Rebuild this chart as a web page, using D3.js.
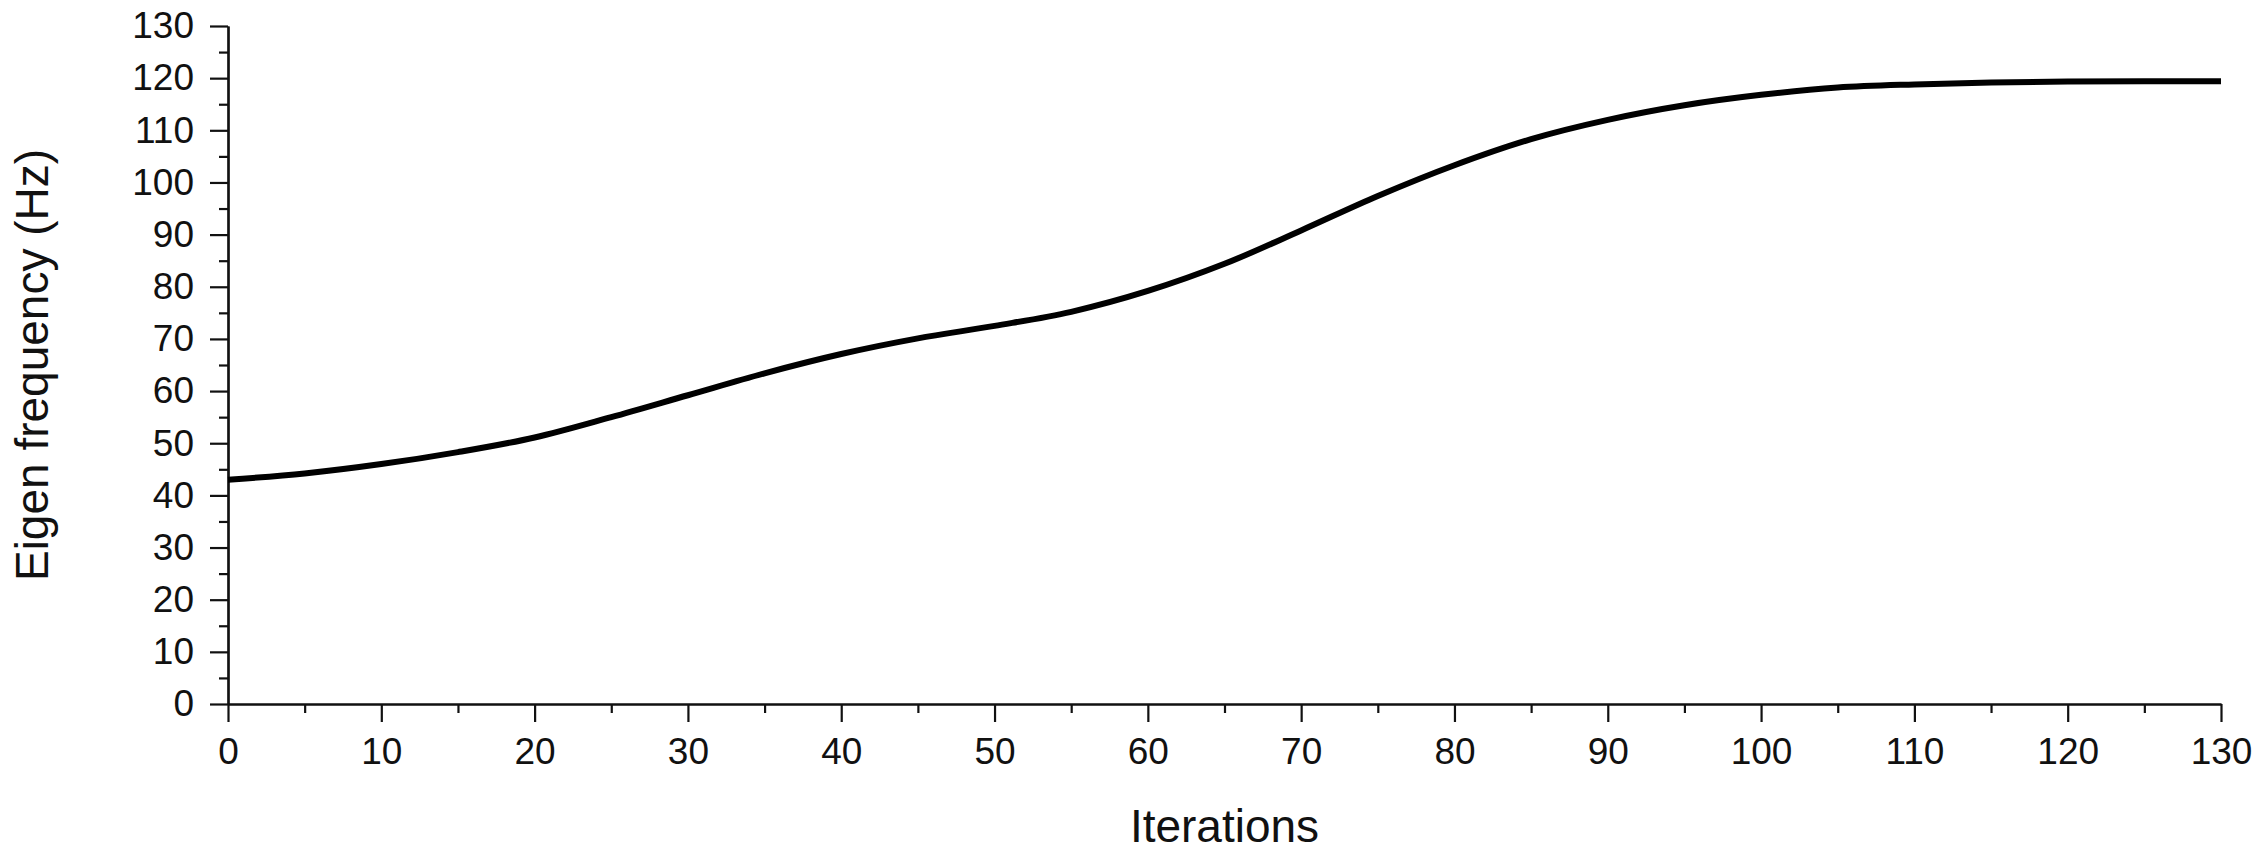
<!DOCTYPE html>
<html>
<head>
<meta charset="utf-8">
<script src="https://cdn.jsdelivr.net/npm/d3@7"></script>
<style>
  html, body { margin: 0; padding: 0; background: #fff; }
  svg { display: block; }
</style>
</head>
<body>
<div id="chart"></div>
<script>
// Eigen frequency vs optimisation iteration
const iterations = [0, 5, 10, 15, 20, 25, 30, 35, 40, 45, 50, 55, 60, 65,
  70, 75, 80, 85, 90, 95, 100, 105, 110, 115, 120, 125, 130];
const frequency = [43.0, 44.2, 46.0, 48.3, 51.1, 55.0, 59.2, 63.4, 67.1, 70.1, 72.5, 75.2, 79.2, 84.4,
  90.8, 97.4, 103.3, 108.3, 112.0, 114.8, 116.8, 118.2, 118.8, 119.15, 119.35, 119.4, 119.4];

const xMajorTicks = d3.range(0, 131, 10);
const xMinorTicks = d3.range(5, 130, 10);
const yMajorTicks = d3.range(0, 131, 10);
const yMinorTicks = d3.range(5, 130, 10);

const xTitle = 'Iterations';
const yTitle = 'Eigen frequency (Hz)';

const W = 2265, H = 858;
const margin = { top: 26, right: 44, bottom: 154, left: 228 };
const innerW = W - margin.left - margin.right;
const innerH = H - margin.top - margin.bottom;
const font = '"Liberation Sans", Arial, sans-serif';

const x = d3.scaleLinear().domain([0, 130]).range([0, innerW]);
const y = d3.scaleLinear().domain([0, 130]).range([innerH, 0]);

const svg = d3.select('#chart').append('svg').attr('width', W).attr('height', H);
const g = svg.append('g').attr('transform', `translate(${margin.left},${margin.top})`);

function styleAxis(axis) {
  axis.select('.domain').attr('stroke', '#111').attr('stroke-width', 2.2);
  axis.selectAll('line').attr('stroke', '#111').attr('stroke-width', 2.2);
  axis.selectAll('text').attr('fill', '#111').style('font-family', font).style('font-size', '37px');
}

// minor ticks first, majors on top
g.append('g')
  .attr('transform', `translate(0,${innerH})`)
  .call(d3.axisBottom(x).tickValues(xMinorTicks).tickSize(9).tickFormat('').tickSizeOuter(0))
  .call(styleAxis);
g.append('g')
  .attr('transform', `translate(0,${innerH})`)
  .call(d3.axisBottom(x).tickValues(xMajorTicks).tickSize(18).tickPadding(16).tickSizeOuter(0))
  .call(styleAxis);

g.append('g')
  .call(d3.axisLeft(y).tickValues(yMinorTicks).tickSize(9).tickFormat('').tickSizeOuter(0))
  .call(styleAxis);
g.append('g')
  .call(d3.axisLeft(y).tickValues(yMajorTicks).tickSize(18).tickPadding(16).tickSizeOuter(0))
  .call(styleAxis);

const pts = iterations.map((it, i) => ({ it, f: frequency[i] }));
const line = d3.line()
  .x((d) => x(d.it))
  .y((d) => y(d.f))
  .curve(d3.curveCatmullRom.alpha(0.5));

g.append('path')
  .datum(pts)
  .attr('fill', 'none')
  .attr('stroke', '#000')
  .attr('stroke-width', 6)
  .attr('stroke-linecap', 'butt')
  .attr('d', line);

// axis titles
svg.append('text')
  .attr('x', margin.left + innerW / 2)
  .attr('y', 842)
  .attr('text-anchor', 'middle')
  .attr('fill', '#111')
  .style('font-family', font)
  .style('font-size', '46px')
  .text(xTitle);

svg.append('text')
  .attr('transform', `translate(48,${margin.top + innerH / 2}) rotate(-90)`)
  .attr('text-anchor', 'middle')
  .attr('fill', '#111')
  .style('font-family', font)
  .style('font-size', '46px')
  .text(yTitle);
</script>
</body>
</html>
